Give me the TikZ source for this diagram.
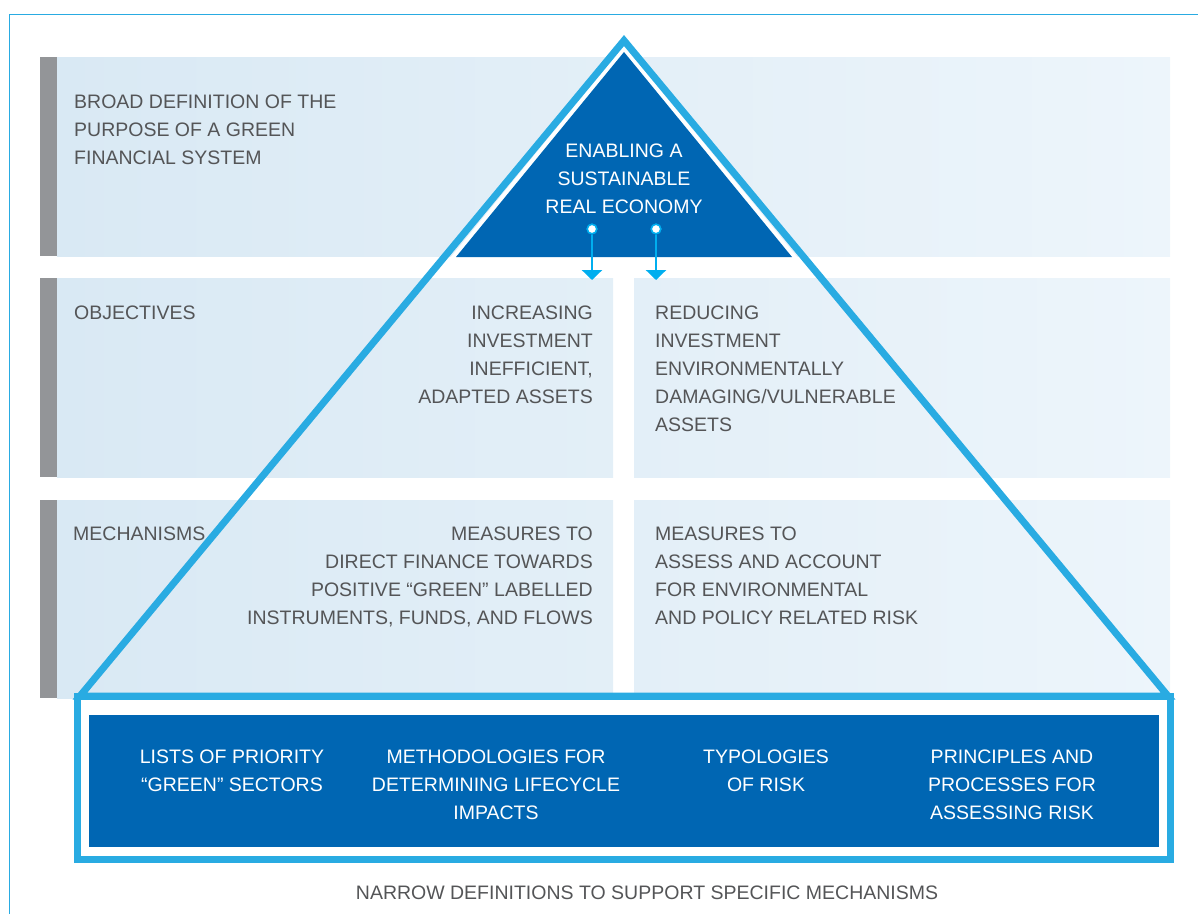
\documentclass[tikz,border=0pt]{standalone}
\usepackage{fontspec}
\setmainfont{Liberation Sans}
\definecolor{PyramidBlue}{HTML}{0066B3}
\definecolor{EdgeBlue}{HTML}{29ABE2}
\definecolor{ArrowBlue}{HTML}{00AEEF}
\definecolor{BandLeft}{HTML}{D9E9F4}
\definecolor{BandRight}{HTML}{EDF5FB}
\definecolor{BarGray}{HTML}{939598}
\definecolor{LabelGray}{HTML}{545557}
\usetikzlibrary{arrows.meta}

\begin{document}
\begin{tikzpicture}[x=1pt, y=-1pt,
      band/.style={left color=BandLeft, right color=BandRight, draw=none},
      bar/.style={fill=BarGray, draw=none},
      lbl/.style={font=\fontsize{19.5}{28}\selectfont, text=LabelGray,
                  inner sep=0pt},
      whitelbl/.style={lbl, text=white, align=center, anchor=north},
      edge/.style={draw=EdgeBlue, line width=7pt, line join=miter},
      dot/.style={circle, fill=white, draw=ArrowBlue, line width=1.5pt,
                  minimum size=9.5pt, inner sep=0pt},
      flow/.style={-{Triangle[width=20pt,length=10pt]},
                   ArrowBlue, line width=2.6pt}]

      \useasboundingbox (0,0) rectangle (1198,914);
      \draw[EdgeBlue, line width=1pt] (9,914) -- (9,14) -- (1198,14);

      % bands
      \shade[band] (57,57) rectangle (1170,256);
      \shade[band, right color=BandLeft!50!BandRight] (57,278) rectangle (613,477);
      \shade[band, left color=BandLeft!50!BandRight] (634,278) rectangle (1170,477);
      \shade[band, right color=BandLeft!50!BandRight] (57,500) rectangle (613,698);
      \shade[band, left color=BandLeft!50!BandRight] (634,500) rectangle (1170,698);
      \foreach \top/\bot in {57/256, 278/477, 500/698}
        \fill[bar] (40,\top) rectangle (57,\bot);

      % pyramid
      \draw[white, line width=8pt, line join=miter]
        (624,52) -- (456,257) -- (792,257) -- cycle;
      \fill[PyramidBlue] (624,52) -- (456,257) -- (792,257) -- cycle;
      \draw[edge] (624,40.5) -- (80,696) -- (1168,696) -- cycle;

      \draw[edge] (77.5,696.5) rectangle (1170.5,859.5);
      \fill[PyramidBlue] (89,715) rectangle (1159,847);

      % row labels
      \node[lbl, anchor=north west, align=left] (broad) at (74,94.5)
        {BROAD DEFINITION OF THE\\PURPOSE OF A GREEN\\FINANCIAL SYSTEM};
      \node[lbl, anchor=north west] (obj) at (74,305.5) {OBJECTIVES};
      \node[lbl, anchor=north west] (mech) at (73,526.5) {MECHANISMS};

      \node[whitelbl] (goal) at (624,143.5)
        {ENABLING A\\SUSTAINABLE\\REAL ECONOMY};

      \node[lbl, anchor=north east, align=right] (incr) at (593,305.5)
        {INCREASING\\INVESTMENT\\INEFFICIENT,\\ADAPTED ASSETS};
      \node[lbl, anchor=north west, align=left] (redu) at (655,305.5)
        {REDUCING\\INVESTMENT\\ENVIRONMENTALLY\\DAMAGING/VULNERABLE\\ASSETS};
      \node[lbl, anchor=north east, align=right] (direct) at (593,526.5)
        {MEASURES TO\\DIRECT FINANCE TOWARDS\\POSITIVE “GREEN” LABELLED\\INSTRUMENTS, FUNDS, AND FLOWS};
      \node[lbl, anchor=north west, align=left] (assess) at (655,526.5)
        {MEASURES TO\\ASSESS AND ACCOUNT\\FOR ENVIRONMENTAL\\AND POLICY RELATED RISK};

      % arrows out of the apex
      \coordinate (tipL) at (592,280);
      \coordinate (tipR) at (656,280);
      \node[dot] (dotL) at (592,229) {};
      \node[dot] (dotR) at (656,229) {};
      \draw[flow] (dotL) -- (tipL);
      \draw[flow] (dotR) -- (tipR);
      \node[dot] at (dotL) {};
      \node[dot] at (dotR) {};

      % base
      \node[whitelbl] (lists) at (232,749.5) {LISTS OF PRIORITY\\“GREEN” SECTORS};
      \node[whitelbl] (method) at (496,749.5)
        {METHODOLOGIES FOR\\DETERMINING LIFECYCLE\\IMPACTS};
      \node[whitelbl] (typo) at (766,749.5) {TYPOLOGIES\\OF RISK};
      \node[whitelbl] (princ) at (1012,749.5)
        {PRINCIPLES AND\\PROCESSES FOR\\ASSESSING RISK};

      \node[lbl, anchor=north] (narrow) at (647,885.5)
        {NARROW DEFINITIONS TO SUPPORT SPECIFIC MECHANISMS};
    \end{tikzpicture}
\end{document}
